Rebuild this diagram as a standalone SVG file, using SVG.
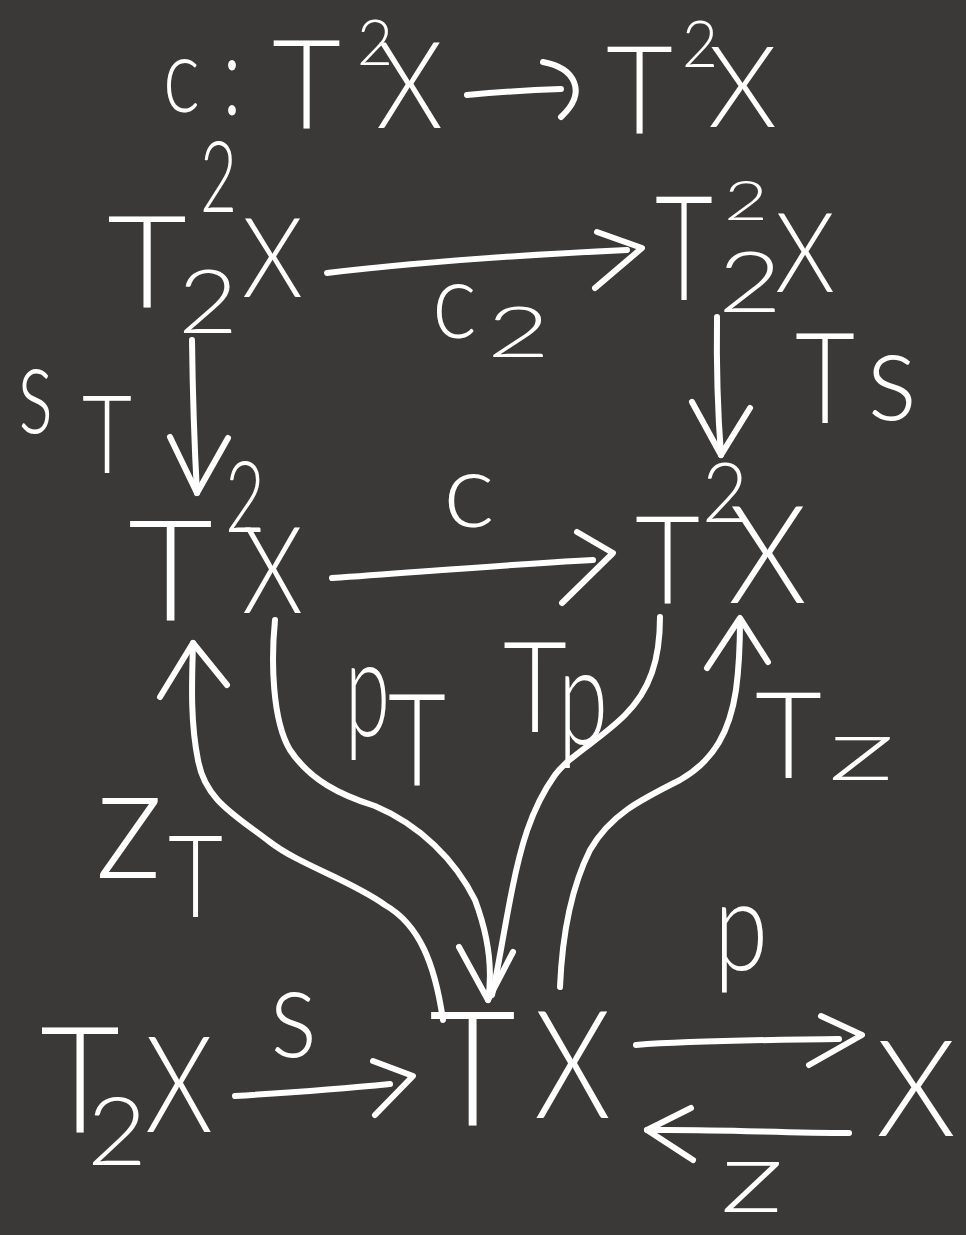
<svg xmlns="http://www.w3.org/2000/svg" width="966" height="1235" viewBox="0 0 966 1235">
  <style>
    .g { font-family: "Lato", "Liberation Sans", sans-serif; font-weight: 300; fill: #ffffff; }
    .ln { fill: none; stroke: #ffffff; stroke-width: 6; stroke-linecap: round; stroke-linejoin: round; }
  </style>
  <rect width="966" height="1235" fill="#3a3937"/>

  <!-- heading: c : T^2 X -> T^2 X -->
  <g id="heading">
    <text class="g"><tspan x="163" y="112" font-size="104" textLength="37" lengthAdjust="spacingAndGlyphs">c</tspan><tspan x="222" y="115" font-size="112" textLength="20" lengthAdjust="spacingAndGlyphs">:</tspan><tspan x="272" y="129" font-size="124" textLength="69" lengthAdjust="spacingAndGlyphs">T</tspan><tspan x="357" y="65" font-size="63" textLength="36" lengthAdjust="spacingAndGlyphs">2</tspan><tspan x="376" y="128" font-size="120" textLength="67" lengthAdjust="spacingAndGlyphs">X</tspan></text>
    <path class="ln" d="M467,95 C500,92 530,90 561,89"/>
    <path class="ln" d="M543,62 C575,68 588,92 561,117"/>
    <text class="g"><tspan x="606" y="133" font-size="123" textLength="67" lengthAdjust="spacingAndGlyphs">T</tspan><tspan x="682" y="67" font-size="66" textLength="36" lengthAdjust="spacingAndGlyphs">2</tspan><tspan x="708" y="127" font-size="112" textLength="69" lengthAdjust="spacingAndGlyphs">X</tspan></text>
  </g>

  <!-- T_2^2 X, top left -->
  <g id="node-t22x-left">
    <text class="g"><tspan x="107" y="307" font-size="128" textLength="80" lengthAdjust="spacingAndGlyphs">T</tspan><tspan x="200" y="212" font-size="98" textLength="37" lengthAdjust="spacingAndGlyphs">2</tspan><tspan x="178" y="333" font-size="88" textLength="60" lengthAdjust="spacingAndGlyphs">2</tspan><tspan x="242" y="297" font-size="110" textLength="61" lengthAdjust="spacingAndGlyphs">X</tspan></text>
  </g>

  <!-- T_2^2 X, top right -->
  <g id="node-t22x-right">
    <text class="g"><tspan x="655" y="300" font-size="146" textLength="58" lengthAdjust="spacingAndGlyphs">T</tspan><tspan x="724" y="220" font-size="56" textLength="44" lengthAdjust="spacingAndGlyphs">2</tspan><tspan x="718" y="312" font-size="84" textLength="64" lengthAdjust="spacingAndGlyphs">2</tspan><tspan x="775" y="292" font-size="110" textLength="60" lengthAdjust="spacingAndGlyphs">X</tspan></text>
  </g>

  <!-- T^2 X, middle left -->
  <g id="node-t2x-left">
    <text class="g"><tspan x="128" y="620" font-size="140" textLength="85" lengthAdjust="spacingAndGlyphs">T</tspan><tspan x="225" y="532" font-size="98" textLength="40" lengthAdjust="spacingAndGlyphs">2</tspan><tspan x="242" y="613" font-size="120" textLength="61" lengthAdjust="spacingAndGlyphs">X</tspan></text>
  </g>

  <!-- T^2 X, middle right -->
  <g id="node-t2x-right">
    <text class="g"><tspan x="635" y="603" font-size="123" textLength="65" lengthAdjust="spacingAndGlyphs">T</tspan><tspan x="702" y="522" font-size="82" textLength="46" lengthAdjust="spacingAndGlyphs">2</tspan><tspan x="728" y="603" font-size="137" textLength="79" lengthAdjust="spacingAndGlyphs">X</tspan></text>
  </g>

  <!-- T_2 X, bottom left -->
  <g id="node-t2x-bottom">
    <text class="g"><tspan x="40" y="1133" font-size="148" textLength="80" lengthAdjust="spacingAndGlyphs">T</tspan><tspan x="87" y="1165" font-size="94" textLength="60" lengthAdjust="spacingAndGlyphs">2</tspan><tspan x="145" y="1132" font-size="135" textLength="68" lengthAdjust="spacingAndGlyphs">X</tspan></text>
  </g>

  <!-- T X, bottom centre -->
  <g id="node-tx">
    <text class="g"><tspan x="429" y="1125" font-size="160" textLength="87" lengthAdjust="spacingAndGlyphs">T</tspan><tspan x="534" y="1118" font-size="150" textLength="77" lengthAdjust="spacingAndGlyphs">X</tspan></text>
  </g>

  <!-- X, bottom right -->
  <g id="node-x">
    <text class="g" x="876" y="1136" font-size="134" textLength="80" lengthAdjust="spacingAndGlyphs">X</text>
  </g>

  <g id="connectors">
    <!-- c_2 -->
    <g id="edge-c2">
      <path class="ln" d="M327,273 C420,262 520,255 627,250"/>
      <path class="ln" d="M597,232 L642,248 L595,288"/>
      <text class="g"><tspan x="432" y="338" font-size="106" textLength="45" lengthAdjust="spacingAndGlyphs">c</tspan><tspan x="487" y="357" font-size="70" textLength="63" lengthAdjust="spacingAndGlyphs">2</tspan></text>
    </g>
    <!-- s_T -->
    <g id="edge-sT">
      <path class="ln" d="M192,340 Q193,420 197,493"/>
      <path class="ln" d="M170,437 L197,493 L228,438"/>
      <text class="g"><tspan x="18" y="433" font-size="127" textLength="35" lengthAdjust="spacingAndGlyphs">s</tspan><tspan x="82" y="473" font-size="109" textLength="50" lengthAdjust="spacingAndGlyphs">T</tspan></text>
    </g>
    <!-- Ts -->
    <g id="edge-Ts">
      <path class="ln" d="M717,317 Q716,390 721,455"/>
      <path class="ln" d="M692,402 L721,455 L750,408"/>
      <text class="g"><tspan x="795" y="423" font-size="126" textLength="60" lengthAdjust="spacingAndGlyphs">T</tspan><tspan x="867" y="420" font-size="129" textLength="50" lengthAdjust="spacingAndGlyphs">s</tspan></text>
    </g>
    <!-- c -->
    <g id="edge-c">
      <path class="ln" d="M332,578 C420,572 500,565 593,560"/>
      <path class="ln" d="M577,532 L613,553 L562,603"/>
      <text class="g" x="443" y="527" font-size="104" textLength="52" lengthAdjust="spacingAndGlyphs">c</text>
    </g>
    <!-- p_T -->
    <g id="edge-pT">
      <path class="ln" d="M275,620 C271,660 272,720 290,750 C310,780 340,795 375,806 C420,825 455,860 475,900 C490,940 492,975 488,1000"/>
      <path class="ln" d="M459,947 L488,1000 L513,952"/>
      <text class="g"><tspan x="345" y="736" font-size="137" textLength="45" lengthAdjust="spacingAndGlyphs">p</tspan><tspan x="388" y="785" font-size="128" textLength="58" lengthAdjust="spacingAndGlyphs">T</tspan></text>
    </g>
    <!-- Tp -->
    <g id="edge-Tp">
      <path class="ln" d="M660,617 C660,660 650,690 625,715 C600,740 570,755 555,775 C530,810 520,850 512,890 C503,935 498,970 492,995"/>
      <text class="g"><tspan x="503" y="732" font-size="126" textLength="64" lengthAdjust="spacingAndGlyphs">T</tspan><tspan x="558" y="744" font-size="136" textLength="50" lengthAdjust="spacingAndGlyphs">p</tspan></text>
    </g>
    <!-- z_T -->
    <g id="edge-zT">
      <path class="ln" d="M443,1020 C435,965 420,925 385,905 C350,880 300,865 270,842 C235,815 205,800 198,760 C190,720 192,680 193,643"/>
      <path class="ln" d="M160,697 L193,643 L227,685"/>
      <text class="g"><tspan x="95" y="878" font-size="160" textLength="68" lengthAdjust="spacingAndGlyphs">z</tspan><tspan x="168" y="917" font-size="115" textLength="55" lengthAdjust="spacingAndGlyphs">T</tspan></text>
    </g>
    <!-- Tz -->
    <g id="edge-Tz">
      <path class="ln" d="M560,987 C562,940 570,890 590,850 C610,815 640,800 680,780 C715,760 730,730 736,690 C740,660 740,640 740,620"/>
      <path class="ln" d="M707,668 L740,618 L768,662"/>
      <text class="g"><tspan x="755" y="778" font-size="120" textLength="67" lengthAdjust="spacingAndGlyphs">T</tspan><tspan x="828" y="780" font-size="87" textLength="67" lengthAdjust="spacingAndGlyphs">z</tspan></text>
    </g>
    <!-- s -->
    <g id="edge-s">
      <path class="ln" d="M235,1096 C300,1092 350,1088 390,1084"/>
      <path class="ln" d="M373,1061 L413,1076 L375,1115"/>
      <text class="g" x="270" y="1057" font-size="129" textLength="47" lengthAdjust="spacingAndGlyphs">s</text>
    </g>
    <!-- p -->
    <g id="edge-p">
      <path class="ln" d="M636,1045 C700,1040 780,1040 839,1039"/>
      <path class="ln" d="M821,1016 L862,1035 L809,1065"/>
      <text class="g" x="714" y="970" font-size="126" textLength="54" lengthAdjust="spacingAndGlyphs">p</text>
    </g>
    <!-- z -->
    <g id="edge-z">
      <path class="ln" d="M849,1133 C780,1133 720,1129 647,1130"/>
      <path class="ln" d="M691,1108 L647,1130 L693,1160"/>
      <text class="g" x="720" y="1212" font-size="100" textLength="64" lengthAdjust="spacingAndGlyphs">z</text>
    </g>
  </g>
</svg>
